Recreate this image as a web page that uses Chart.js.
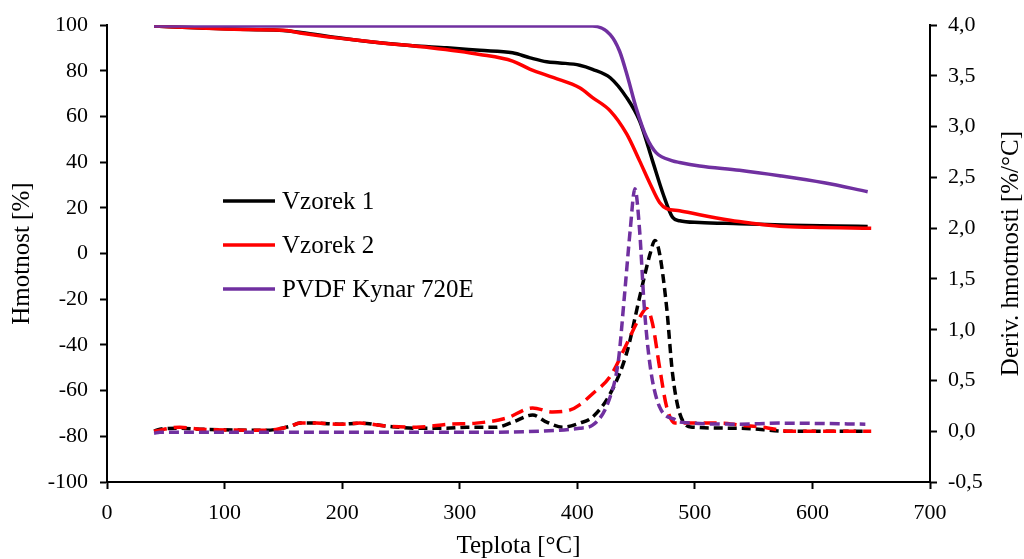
<!DOCTYPE html>
<html>
<head>
<meta charset="utf-8">
<script src="https://cdn.jsdelivr.net/npm/chart.js@4.4.1/dist/chart.umd.min.js"></script>
<style>
    html, body { margin: 0; padding: 0; background: #fff; }
    #wrap { width: 1024px; height: 559px; position: relative; }
</style>
</head>
<body>
<div id="wrap"><canvas id="tga"></canvas></div>
<script>
// TGA curves: mass loss [%] (left axis) and derivative [%/°C] (right axis)
const tempMass1 = [40, 80, 120, 150, 165, 200, 232, 260, 289, 317, 345, 360, 374, 385, 402, 413, 428, 442, 453, 464, 473, 481, 487, 504, 538, 581, 620, 647];
const massV1    = [99.6, 98.8, 98.1, 97.7, 96.8, 94.3, 92.3, 91.0, 90.1, 89.0, 87.9, 85.7, 84.0, 83.5, 82.5, 80.7, 77.0, 68.3, 58.1, 40.6, 26.1, 15.9, 14.4, 13.6, 13.1, 12.4, 12.1, 11.9];

const tempMass2 = [40, 80, 121, 153, 164, 206, 232, 275, 317, 345, 360, 380, 402, 413, 428, 442, 453, 462, 470, 476, 487, 504, 530, 547, 572, 600, 650];
const massV2    = [99.6, 98.8, 98.1, 97.7, 96.6, 93.8, 92.3, 90.1, 87.2, 84.3, 80.7, 77.0, 72.6, 68.3, 62.5, 52.4, 40.6, 30.5, 22.4, 19.7, 18.8, 17.0, 14.6, 13.4, 12.0, 11.5, 11.1];

const tempMassP = [40, 385, 413, 428, 436, 443, 450, 459, 467, 481, 487, 504, 538, 572, 610, 647];
const massPVDF  = [99.7, 99.7, 99.6, 95.9, 88.6, 77.0, 63.9, 50.8, 44.2, 40.6, 39.9, 38.4, 36.5, 34.1, 31.0, 27.1];

const tempDtg1 = [40, 45, 62, 79, 136, 156, 164, 178, 198, 215, 238, 263, 289, 306, 331, 345, 362, 374, 388, 402, 413, 428, 442, 453, 462, 466, 470, 476, 481, 487, 498, 538, 580, 645];
const dtgV1    = [0.00, 0.02, 0.03, 0.02, 0.01, 0.05, 0.08, 0.08, 0.07, 0.08, 0.05, 0.03, 0.03, 0.04, 0.04, 0.09, 0.16, 0.09, 0.04, 0.08, 0.14, 0.37, 0.77, 1.32, 1.75, 1.88, 1.75, 1.22, 0.57, 0.18, 0.04, 0.03, 0.00, 0.00];

const tempDtg2 = [40, 62, 79, 136, 156, 164, 178, 198, 215, 238, 263, 292, 314, 340, 362, 379, 394, 402, 413, 428, 442, 453, 459, 464, 470, 476, 483, 504, 524, 538, 558, 581, 650];
const dtgV2    = [0.00, 0.04, 0.02, 0.01, 0.05, 0.08, 0.08, 0.07, 0.08, 0.05, 0.04, 0.07, 0.08, 0.13, 0.23, 0.19, 0.21, 0.26, 0.37, 0.54, 0.86, 1.12, 1.21, 1.06, 0.63, 0.24, 0.08, 0.08, 0.08, 0.06, 0.04, 0.00, 0.00];

const tempDtgP = [40, 45, 79, 300, 385, 402, 413, 428, 435, 440, 445, 449, 453, 457, 462, 470, 484, 487, 538, 572, 645];
const dtgPVDF  = [-0.02, -0.01, -0.01, -0.01, 0.01, 0.03, 0.06, 0.34, 0.70, 1.32, 1.98, 2.39, 1.98, 1.22, 0.64, 0.24, 0.11, 0.09, 0.07, 0.08, 0.07];

const seriesNames = ['Vzorek 1', 'Vzorek 2', 'PVDF Kynar 720E'];
const seriesColors = ['#000000', '#ff0000', '#7030a0'];

const xTicks = [0, 100, 200, 300, 400, 500, 600, 700];

const SERIF = "'Liberation Serif', 'Times New Roman', serif";

function pairs(xs, ys) {
    return xs.map((x, i) => ({ x: x, y: ys[i] }));
}

function solid(label, xs, ys, color) {
    return {
        label: label,
        data: pairs(xs, ys),
        yAxisID: 'y',
        borderColor: color,
        borderWidth: 3.5,
        pointRadius: 0,
        cubicInterpolationMode: 'monotone',
        fill: false
    };
}

function dashed(label, xs, ys, color, dash) {
    return {
        label: label,
        data: pairs(xs, ys),
        yAxisID: 'y1',
        borderColor: color,
        borderWidth: 3.5,
        borderDash: dash,
        pointRadius: 0,
        cubicInterpolationMode: 'monotone',
        fill: false
    };
}

const axisStyle = {
    grid: { display: true, drawOnChartArea: false, drawTicks: true, tickLength: 7, tickWidth: 2, tickColor: '#000' },
    border: { display: true, color: '#000', width: 2 }
};

// legend drawn inside the plot area, Excel style
const insideLegend = {
    id: 'insideLegend',
    afterDraw(chart) {
        const { ctx } = chart;
        ctx.save();
        ctx.font = '25px ' + SERIF;
        ctx.textBaseline = 'middle';
        ctx.textAlign = 'left';
        seriesNames.forEach((name, i) => {
            const y = 201 + i * 44;
            ctx.strokeStyle = seriesColors[i];
            ctx.lineWidth = 3.5;
            ctx.beginPath();
            ctx.moveTo(223, y);
            ctx.lineTo(275, y);
            ctx.stroke();
            ctx.fillStyle = '#000';
            ctx.fillText(name, 282, y + 1);
        });
        ctx.restore();
    }
};

// right axis title reads bottom-to-top like the left one
const rightTitle = {
    id: 'rightTitle',
    afterDraw(chart) {
        const { ctx, chartArea } = chart;
        ctx.save();
        ctx.translate(1011, (chartArea.top + chartArea.bottom) / 2);
        ctx.rotate(-Math.PI / 2);
        ctx.font = '25px ' + SERIF;
        ctx.fillStyle = '#000';
        ctx.textAlign = 'center';
        ctx.textBaseline = 'middle';
        ctx.fillText('Deriv. hmotnosti [%/°C]', 0, 0);
        ctx.restore();
    }
};

new Chart(document.getElementById('tga').getContext('2d'), {
    type: 'line',
    data: {
        datasets: [
            dashed('DTG ' + seriesNames[2], tempDtgP, dtgPVDF, seriesColors[2], [10, 5]),
            dashed('DTG ' + seriesNames[1], tempDtg2, dtgV2, seriesColors[1], [13, 7]),
            dashed('DTG ' + seriesNames[0], tempDtg1, dtgV1, seriesColors[0], [9, 5]),
            solid(seriesNames[2], tempMassP, massPVDF, seriesColors[2]),
            solid(seriesNames[1], tempMass2, massV2, seriesColors[1]),
            solid(seriesNames[0], tempMass1, massV1, seriesColors[0])
        ]
    },
    options: {
        responsive: true,
        maintainAspectRatio: false,
        animation: false,
        layout: { padding: { top: 24, left: 0, right: 0, bottom: 0 } },
        plugins: {
            legend: { display: false },
            tooltip: { enabled: false }
        },
        scales: {
            x: {
                type: 'linear',
                min: 0,
                max: 700,
                afterBuildTicks(scale) { scale.ticks = xTicks.map(v => ({ value: v })); },
                afterFit(scale) { scale.height = 77; },
                ticks: { color: '#000', font: { family: SERIF, size: 22 }, padding: 11, maxRotation: 0 },
                title: { display: true, text: 'Teplota [°C]', color: '#000', font: { family: SERIF, size: 25, lineHeight: 1 }, padding: 0 },
                ...axisStyle
            },
            y: {
                position: 'left',
                min: -100,
                max: 100,
                afterFit(scale) { scale.width = 107; },
                ticks: { stepSize: 20, color: '#000', font: { family: SERIF, size: 22 }, padding: 12 },
                title: { display: true, text: 'Hmotnost [%]', color: '#000', font: { family: SERIF, size: 25, lineHeight: 1 }, padding: { top: 10, bottom: 0 } },
                ...axisStyle
            },
            y1: {
                position: 'right',
                min: -0.5,
                max: 4,
                afterFit(scale) { scale.width = 94; },
                ticks: {
                    stepSize: 0.5,
                    color: '#000',
                    font: { family: SERIF, size: 22 },
                    padding: 11,
                    callback: v => v.toFixed(1).replace('.', ',')
                },
                ...axisStyle
            }
        }
    },
    plugins: [insideLegend, rightTitle]
});
</script>
</body>
</html>
